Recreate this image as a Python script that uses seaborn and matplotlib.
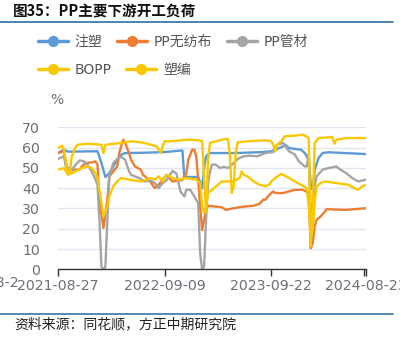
import numpy as np
import pandas as pd
import matplotlib
matplotlib.use("Agg")
import matplotlib.pyplot as plt
from matplotlib.lines import Line2D
import seaborn as sns

# ---------------- data (weekly, week index from 2021-08-27) ----------------
START = pd.Timestamp("2021-08-27")

inj_w = [0, 3, 5, 20, 22, 24, 26, 30, 32, 34, 45, 54, 63, 64, 71, 73, 74, 75, 77, 90,
         104, 108, 111, 114, 115, 117, 120, 123, 125, 127, 128, 129, 130, 132, 134, 137, 145, 156]
inj_v = [57.3, 59.0, 58.0, 58.2, 52.4, 45.5, 47.4, 54.0, 56.5, 57.3, 57.5, 57.8, 58.6, 45.5, 45.5,
         40.0, 50.0, 55.7, 57.3, 57.3, 57.8, 58.2, 59.3, 60.6, 61.5, 59.8, 59.3, 59.0, 57.3, 54.0,
         42.0, 39.2, 49.0, 54.9, 57.3, 57.7, 57.3, 56.8]

nwf_w = [0, 3, 4, 5, 11, 12, 14, 17, 19, 20, 21, 23, 25, 26, 30, 31, 33, 34, 36, 37, 39, 42, 43,
         46, 49, 51, 53, 55, 58, 63, 65, 66, 68, 69, 70, 71, 72, 73, 74, 75, 76, 83, 85, 89, 92, 96,
         99, 102, 104, 105, 107, 109, 110, 114, 117, 120, 124, 127, 128, 129, 130, 131, 133, 135,
         136, 146, 156]
nwf_v = [57.3, 58.2, 52.4, 49.1, 49.1, 50.7, 52.4, 52.7, 53.2, 51.6, 34.3, 20.3, 34.3, 45.8, 50.7,
         57.3, 63.9, 62.3, 57.3, 54.0, 50.7, 49.1, 46.6, 44.2, 40.0, 41.7, 44.2, 46.4, 43.3, 44.0,
         47.4, 54.0, 59.0, 59.0, 55.7, 44.2, 31.0, 19.4, 24.4, 29.3, 31.3, 30.6, 29.3, 30.1, 30.6,
         31.1, 31.3, 32.3, 34.3, 34.3, 36.7, 38.4, 37.6, 37.6, 38.4, 39.2, 39.2, 37.6, 10.4, 12.9,
         21.1, 24.4, 26.0, 28.3, 29.6, 29.3, 30.1]

pipe_w = [0, 3, 4, 7, 9, 11, 13, 15, 17, 19, 20, 21, 22, 23, 24, 25, 26, 28, 30, 32, 34, 36, 37,
          41, 44, 47, 49, 51, 53, 55, 58, 60, 62, 64, 65, 67, 68, 70, 71, 72, 73, 74, 75, 76, 77,
          78, 80, 82, 84, 86, 89, 91, 94, 97, 101, 105, 109, 111, 114, 117, 120, 122, 125, 126,
          127, 128, 129, 130, 131, 134, 137, 141, 143, 146, 149, 152, 156]
pipe_v = [54.4, 55.7, 50.7, 49.1, 51.6, 53.7, 53.2, 51.6, 48.3, 44.2, 41.7, 24.4, 1.3, 0.0, 1.3,
          24.4, 45.8, 52.4, 54.4, 55.4, 54.0, 48.3, 46.6, 45.0, 43.3, 43.7, 42.5, 40.0, 42.5, 43.9,
          48.5, 47.2, 38.4, 35.9, 39.2, 39.2, 37.6, 34.3, 32.6, 7.9, 0.0, 1.3, 24.4, 42.5, 48.3,
          51.6, 51.6, 49.9, 50.5, 49.9, 52.4, 54.4, 55.7, 56.0, 55.7, 57.3, 57.8, 61.4, 62.3, 58.2,
          56.5, 53.2, 50.7, 50.7, 57.0, 27.7, 31.0, 40.9, 45.8, 49.1, 49.9, 50.7, 49.1, 47.4, 45.0,
          43.3, 44.2]

bopp_w = [0, 2, 3, 5, 6, 7, 9, 10, 15, 22, 23, 24, 32, 37, 42, 47, 50, 52, 53, 54, 58, 65, 71,
          73, 74, 75, 76, 77, 83, 86, 87, 88, 89, 90, 91, 96, 105, 108, 109, 110, 111, 113, 115,
          120, 124, 127, 128, 129, 130, 132, 139, 140, 141, 146, 156]
bopp_v = [59.8, 61.0, 59.0, 47.4, 47.4, 55.7, 60.6, 61.4, 61.9, 61.4, 57.3, 61.4, 62.3, 63.1, 62.6,
          61.4, 60.6, 57.3, 60.6, 63.1, 63.1, 63.9, 63.6, 63.1, 45.0, 28.5, 54.0, 62.3, 63.9, 64.3,
          57.3, 37.6, 40.9, 57.3, 62.6, 63.1, 63.6, 63.1, 61.4, 58.2, 61.4, 63.1, 65.6, 65.9, 66.4,
          64.7, 11.2, 30.0, 62.3, 64.7, 65.2, 61.9, 63.9, 64.7, 64.7]

weave_w = [0, 3, 5, 9, 12, 15, 17, 19, 20, 22, 23, 25, 26, 28, 30, 32, 36, 42, 47, 49, 51, 53, 55,
           58, 61, 65, 70, 72, 73, 74, 75, 76, 79, 83, 89, 92, 93, 94, 96, 97, 99, 102, 105, 107,
           108, 110, 113, 114, 117, 120, 123, 126, 127, 128, 129, 130, 131, 133, 135, 141, 147,
           150, 152, 154, 156]
weave_v = [49.1, 49.9, 46.6, 48.3, 49.9, 50.7, 49.9, 47.4, 45.0, 32.6, 26.0, 31.0, 35.9, 40.9, 43.3,
           45.0, 44.2, 43.3, 45.0, 44.2, 45.8, 43.3, 46.7, 45.0, 44.2, 45.0, 44.2, 42.5, 31.0, 27.7,
           31.0, 37.6, 40.0, 43.3, 43.3, 45.0, 48.3, 46.6, 45.8, 45.0, 43.3, 41.7, 40.9, 41.7, 43.3,
           45.0, 47.0, 46.6, 45.0, 43.3, 41.7, 40.0, 31.0, 16.1, 19.4, 32.6, 40.9, 42.5, 43.3, 42.5,
           41.7, 40.0, 39.2, 40.9, 41.7]

series_names = ["注塑", "PP无纺布", "PP管材", "BOPP", "塑编"]
series_weeks = [inj_w, nwf_w, pipe_w, bopp_w, weave_w]
series_vals = [inj_v, nwf_v, pipe_v, bopp_v, weave_v]
colors = ["#5B9BD5", "#ED7D31", "#A5A5A5", "#FAC800", "#FAC800"]

tick_labels = ["2021-08-27", "2022-09-09", "2023-09-22", "2024-08-23"]
END_WEEK = 156


def to_dates(weeks):
    return START + pd.to_timedelta(np.asarray(weeks) * 7, unit="D")


frames = []
for name, w, v in zip(series_names, series_weeks, series_vals):
    frames.append(pd.DataFrame({"date": to_dates(w), "value": v, "series": name}))
df = pd.concat(frames, ignore_index=True)

# ---------------- figure ----------------
sns.set_theme(style="white")
plt.rcParams["font.family"] = ["DejaVu Sans", "Noto Sans CJK SC"]
plt.rcParams["axes.unicode_minus"] = False

fig = plt.figure(figsize=(4.0, 3.38), dpi=100)
ax = fig.add_axes([58 / 400, 1 - 269.3 / 338, 308 / 400, 142 / 338])

sns.lineplot(data=df, x="date", y="value", hue="series", hue_order=series_names,
             palette=dict(zip(series_names, colors)), linewidth=1.7, legend=False,
             estimator=None, ax=ax)

ax.set_xlim(START, START + pd.Timedelta(days=7 * END_WEEK))
ax.set_ylim(0, 70)
ax.set_yticks(range(0, 71, 10))
ax.set_xticks(pd.to_datetime(tick_labels))
ax.set_xticklabels(tick_labels)
ax.set_xticks([START + pd.Timedelta(days=7 * (END_WEEK - 1))], minor=True)
ax.set_xlabel("")
ax.set_ylabel("")
ax.grid(axis="y", color="#E0E6F1", linewidth=1.0)
ax.grid(axis="x", visible=False)
for s in ["left", "top", "right"]:
    ax.spines[s].set_visible(False)
ax.spines["bottom"].set_color("#333333")
ax.spines["bottom"].set_linewidth(1.0)
ax.tick_params(axis="x", which="both", bottom=True, direction="out", length=5,
               width=1, color="#333333", labelcolor="#6E7079", labelsize=10.2, pad=2)
ax.tick_params(axis="y", left=False, labelcolor="#6E7079", labelsize=10.2, pad=7)

# clipped label at far left
fig.text(19 / 400, 1 - 283 / 338, "2021-08-2", ha="right", va="center",
         color="#6E7079", fontsize=10.2)

# unit
fig.text(57 / 400, 1 - 100 / 338, "%", ha="center", va="center", color="#6E7079", fontsize=10)

# legend rows
def handle(c):
    return Line2D([], [], color=c, lw=2.5, marker="o", markersize=7)

common = dict(frameon=False, fontsize=10, handlelength=2.15, handletextpad=0.5,
              columnspacing=1.05, borderpad=0, borderaxespad=0, loc="center left",
              labelcolor="#555555")
fig.legend(handles=[handle(c) for c in colors[:3]], labels=series_names[:3], ncol=3,
           bbox_to_anchor=(38 / 400, 1 - 42 / 338), **common)
fig.legend(handles=[handle(c) for c in colors[3:]], labels=series_names[3:], ncol=2,
           bbox_to_anchor=(38 / 400, 1 - 70 / 338), **common)

# header / footer
fig.text(13 / 400, 1 - 12 / 338, "图35：PP主要下游开工负荷", ha="left", va="center",
         fontsize=10.5, fontweight="bold", color="#111111", family=["Noto Sans CJK SC"])
fig.add_artist(Line2D([0, 393 / 400], [1 - 22 / 338] * 2, color="#3B79AD", lw=1.3,
                      transform=fig.transFigure))
fig.add_artist(Line2D([0, 393 / 400], [1 - 314 / 338] * 2, color="#4A7FAE", lw=1.3,
                      transform=fig.transFigure))
fig.text(14 / 400, 1 - 324 / 338, "资料来源：同花顺，方正中期研究院", ha="left", va="center",
         fontsize=10, color="#222222", family=["Noto Sans CJK SC"])

fig.savefig("out.png", dpi=100)
